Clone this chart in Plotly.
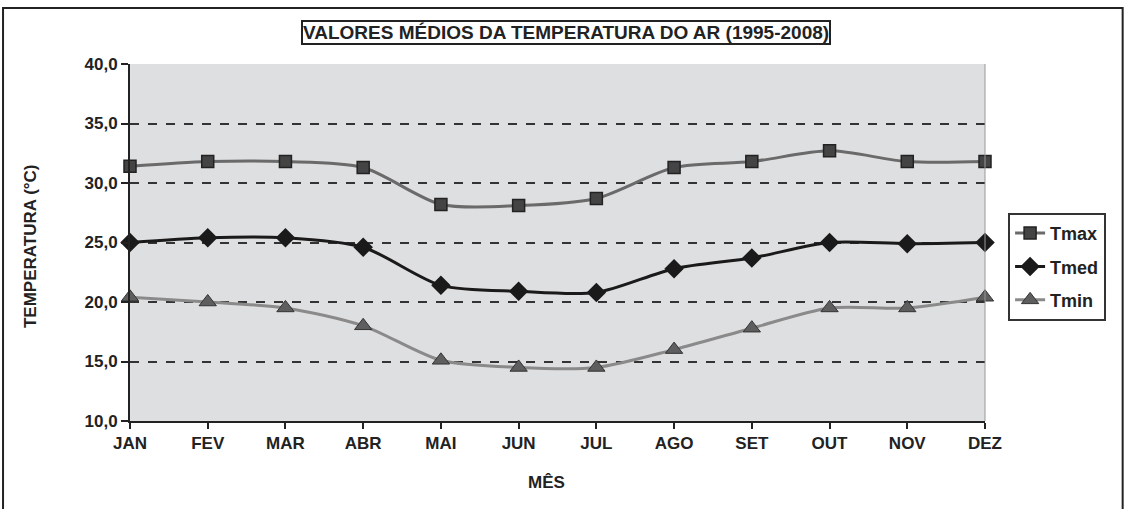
import plotly.graph_objects as go

meses = ['JAN', 'FEV', 'MAR', 'ABR', 'MAI', 'JUN', 'JUL', 'AGO', 'SET', 'OUT', 'NOV', 'DEZ']
tmax = [31.4, 31.8, 31.8, 31.3, 28.2, 28.1, 28.7, 31.3, 31.8, 32.7, 31.8, 31.8]
tmed = [25.0, 25.4, 25.4, 24.6, 21.4, 20.9, 20.8, 22.8, 23.7, 25.0, 24.9, 25.0]
tmin = [20.4, 20.0, 19.5, 18.0, 15.1, 14.5, 14.5, 16.0, 17.8, 19.5, 19.5, 20.4]

FONT = "Liberation Sans Narrow, Arial Narrow, Liberation Sans, Arial, sans-serif"
INK = '#222222'

fig = go.Figure()
fig.add_trace(go.Scatter(x=meses, y=tmax, name='<b>Tmax</b>', mode='lines+markers', legendgroup='a',
                         line=dict(color='#6a6a6a', width=3, shape='spline', smoothing=0.8),
                         marker=dict(symbol='square', size=12, color='#444444',
                                     line=dict(color=INK, width=1.5))))
fig.add_trace(go.Scatter(x=meses, y=tmed, name='<b>Tmed</b>', mode='lines+markers', legendgroup='b',
                         line=dict(color='#1a1a1a', width=3, shape='spline', smoothing=0.8),
                         marker=dict(symbol='diamond', size=15, color='#1a1a1a')))
fig.add_trace(go.Scatter(x=meses, y=tmin, name='<b>Tmin</b>', mode='lines+markers', legendgroup='c',
                         line=dict(color='#8a8a8a', width=3, shape='spline', smoothing=0.8),
                         marker=dict(symbol='triangle-up', size=15, color='#5e5e5e',
                                     line=dict(color='#333333', width=1))))
fig.update_traces(cliponaxis=False)

fig.update_layout(
    width=1126, height=509,
    margin=dict(l=130, r=141, t=64, b=88),
    paper_bgcolor='white', plot_bgcolor='#dedfe0',
    separators=',.',
    font=dict(family=FONT, color=INK, size=18),
    showlegend=True,
    legend=dict(x=1.027, y=0.583, xanchor='left', yanchor='top',
                bgcolor='white', bordercolor='#333333', borderwidth=2,
                font=dict(size=18, family=FONT, color=INK),
                itemwidth=30, tracegroupgap=7, traceorder='grouped'),
    annotations=[
        dict(text='<b>VALORES MÉDIOS DA TEMPERATURA DO AR (1995-2008)</b>',
             xref='paper', yref='paper', x=0.51, y=1.087, showarrow=False,
             xanchor='center', yanchor='middle',
             font=dict(size=19, family=FONT, color=INK),
             bordercolor=INK, borderwidth=2, borderpad=0, bgcolor='white'),
        dict(text='<b>TEMPERATURA (°C)</b>', textangle=-90,
             xref='paper', yref='paper', x=-0.117, y=0.49, showarrow=False,
             xanchor='center', yanchor='middle', font=dict(size=17, family=FONT, color=INK)),
        dict(text='<b>MÊS</b>',
             xref='paper', yref='paper', x=0.487, y=-0.171, showarrow=False,
             xanchor='center', yanchor='middle', font=dict(size=17, family=FONT, color=INK)),
    ],
    shapes=[
        dict(type='rect', xref='paper', yref='paper', x0=-0.1485, x1=1.161, y0=-0.3, y1=1.157,
             line=dict(color=INK, width=2), layer='below'),
        dict(type='line', xref='paper', yref='paper', x0=1, x1=1, y0=0, y1=1,
             line=dict(color='#999999', width=1)),
    ],
)

fig.update_xaxes(
    range=[0, 11], showgrid=False, zeroline=False,
    showline=True, linecolor=INK, linewidth=2,
    ticks='outside', ticklen=6, tickcolor=INK, tickwidth=2,
    tickfont=dict(size=17, family=FONT, color=INK),
    tickprefix='<b>', ticksuffix='</b>',
)
fig.update_yaxes(
    range=[10, 40], dtick=5, tickformat='.1f',
    showgrid=True, gridcolor='#333333', griddash='dash', gridwidth=2,
    zeroline=False, showline=True, linecolor=INK, linewidth=2,
    ticks='outside', ticklen=7, tickcolor=INK, tickwidth=2,
    tickfont=dict(size=17, family=FONT, color=INK),
    tickprefix='<b>', ticksuffix='</b>',
)

fig.write_html("out.html", config={'displayModeBar': False},
               post_script="document.body.style.margin='0';")
